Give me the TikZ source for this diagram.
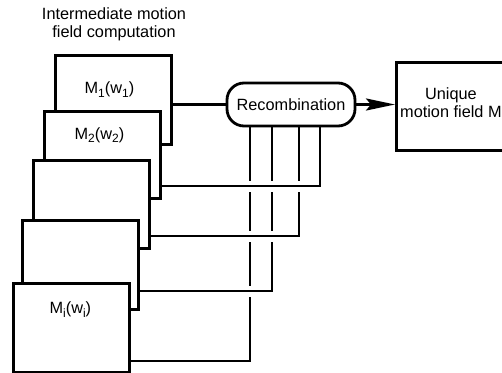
\documentclass[tikz,border=0pt]{standalone}
\usepackage{fontspec}
\setmainfont{Liberation Sans}
\usetikzlibrary{arrows.meta,backgrounds}
\newcommand\lsub[1]{\raisebox{-3.5pt}{\fontsize{12}{12}\selectfont #1}}
\tikzset{
  frame/.style={draw, line width=2.8pt, fill=white, anchor=north west, minimum width=116pt, inner sep=0pt},
  conn/.style={line width=2.8pt, preaction={draw=white, line width=11pt}},
  lab/.style={font=\fontsize{16.3}{18}\selectfont, align=center},
}
\begin{document}
\begin{tikzpicture}[x=1pt,y=-1pt, line join=miter]
\clip (0,0) rectangle (502,372);
\useasboundingbox (0,0) rectangle (502,372);
\node[lab] (title) at (114,24) {Intermediate motion\\field computation};
\node[frame, minimum height=89pt, label={[lab,xshift=-4pt,yshift=10.5pt]center:M\lsub{1}(w\lsub{1})}] (b1) at (54,54) {};
\node[frame, minimum height=87pt, label={[lab,xshift=-3pt,yshift=20pt]center:M\lsub{2}(w\lsub{2})}] (b2) at (43,110) {};
\node[frame, minimum height=88pt] (b3) at (32,159) {};
\node[frame, minimum height=89pt] (b4) at (21,219) {};
\node[frame, minimum height=89pt, label={[lab,xshift=-1pt,yshift=18.5pt]center:M\lsub{i}(w\lsub{i})}] (b5) at (12,282) {};
\node[draw, line width=2.8pt, fill=white, rounded corners=17pt, minimum width=128pt, minimum height=43pt, inner sep=0pt, lab] (rc) at (291,104.5) {Recombination};
\node[frame, minimum height=88pt, label={[lab,xshift=-3.5pt,yshift=4pt]center:Unique\\motion field M}] (u) at (395,61) {};
\draw[line width=2.8pt, -{Stealth[length=29pt,width=12pt,inset=5pt]}] (rc.east) -- (u.west |- rc.east);
\begin{pgfonlayer}{background}
\draw[line width=2.8pt] (b1.east |- rc.west) -- (rc.west);
\draw[conn] (b5.east |- 0,361) -| (rc.south -| 250,0);
\draw[conn] (b4.east |- 0,291) -| (rc.south -| 272,0);
\draw[conn] (b3.east |- 0,236) -| (rc.south -| 299,0);
\draw[conn] (b2.east |- 0,186) -| (rc.south -| 320,0);
\end{pgfonlayer}
\end{tikzpicture}
\end{document}
